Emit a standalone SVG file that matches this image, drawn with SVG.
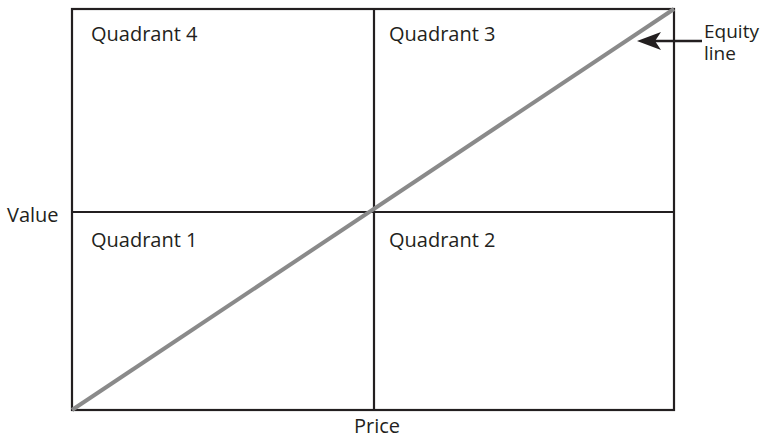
<svg xmlns="http://www.w3.org/2000/svg" width="768" height="440" viewBox="0 0 768 440">
<style>
.t{font-family:"Open Sans","Liberation Sans",sans-serif;font-size:20px;fill:#231f20}
.ln{stroke:#231f20;stroke-width:2.2;fill:none}
</style>
<g id="grid">
<rect class="ln" x="72" y="9" width="602" height="401"/>
<line class="ln" x1="374" y1="9" x2="374" y2="410"/>
<line class="ln" x1="72" y1="212" x2="674" y2="212"/>
</g>
<g id="connectors">
<line x1="72" y1="410" x2="674" y2="9" stroke="#8a8a8a" stroke-width="4"/>
<line x1="702" y1="41" x2="652" y2="41" stroke="#231f20" stroke-width="2.5"/>
<path d="M637,41 L661,32 L655,41 L661,50 Z" fill="#231f20"/>
</g>
<g id="q4"><text class="t" x="91" y="41">Quadrant 4</text></g>
<g id="q3"><text class="t" x="389" y="41">Quadrant 3</text></g>
<g id="q1"><text class="t" x="91" y="247">Quadrant 1</text></g>
<g id="q2"><text class="t" x="389" y="247">Quadrant 2</text></g>
<g id="value"><text class="t" x="7" y="222">Value</text></g>
<g id="price"><text class="t" x="377" y="433" text-anchor="middle">Price</text></g>
<g id="equity"><text class="t" x="704" y="38" style="font-size:19px">Equity</text><text class="t" x="704" y="60" style="font-size:19px">line</text></g>
</svg>
